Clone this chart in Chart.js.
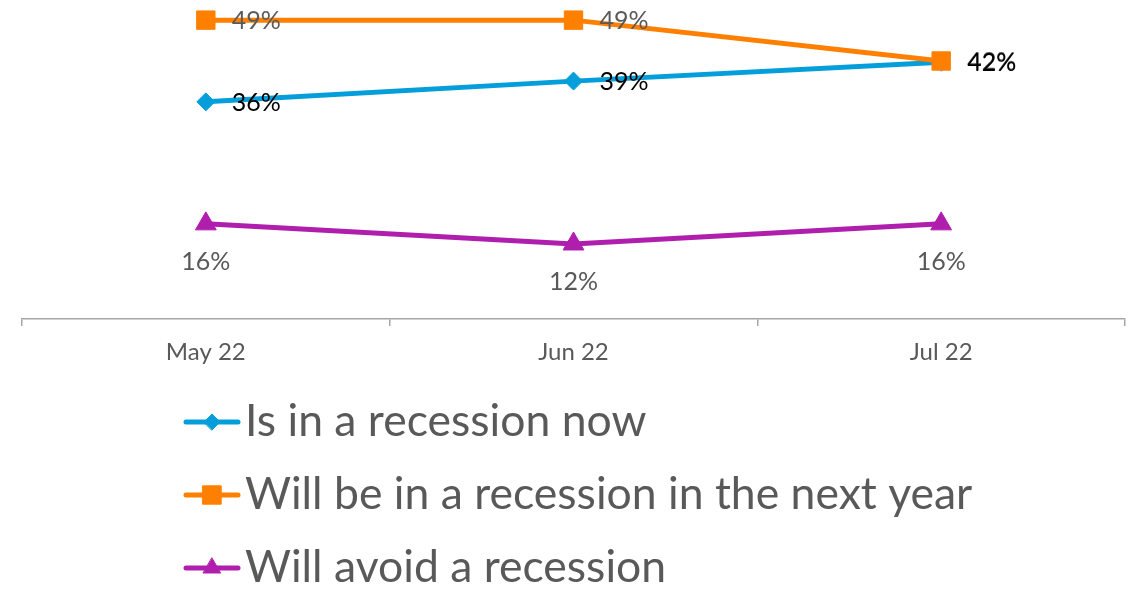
<!DOCTYPE html>
<html>
<head>
<meta charset="utf-8">
<script src="https://cdn.jsdelivr.net/npm/chart.js@4.4.0/dist/chart.umd.min.js"></script>
<style>
  html, body { margin: 0; padding: 0; background: #fff; }
  #wrap { width: 1132px; height: 589px; }
</style>
</head>
<body>
<div id="wrap"><canvas id="chart" width="1132" height="589"></canvas></div>
<script>
// data (labels are rounded, so values are estimates)
const months = ['May 22', 'Jun 22', 'Jul 22'];
const recessionNow = [35.6, 39.0, 42.1];
const recessionNextYear = [49.0, 49.0, 42.3];
const avoidRecession = [15.6, 12.3, 15.6];
const seriesNames = [
  'Is in a recession now',
  'Will be in a recession in the next year',
  'Will avoid a recession'
];

const GREY = '#595959';
const FONT = 'Lato';

// percent labels next to / under each point
const valueLabels = {
  id: 'valueLabels',
  afterDatasetsDraw(chart) {
    const ctx = chart.ctx;
    ctx.save();
    ctx.font = '25px ' + FONT;
    ctx.textBaseline = 'middle';
    for (let i = chart.data.datasets.length - 1; i >= 0; i--) {
      const ds = chart.data.datasets[i];
      const meta = chart.getDatasetMeta(i);
      ctx.fillStyle = ds.labelColor;
      meta.data.forEach((pt, j) => {
        const txt = Math.round(ds.data[j]) + '%';
        if (ds.labelPos === 'below') {
          ctx.textAlign = 'center';
          ctx.fillText(txt, pt.x, pt.y + 38);
        } else {
          ctx.textAlign = 'left';
          ctx.fillText(txt, pt.x + 26, pt.y + 1);
        }
      });
    }
    ctx.restore();
  }
};

// legend stacked under the axis, one series per row
const rowLegend = {
  id: 'rowLegend',
  afterDraw(chart) {
    const ctx = chart.ctx;
    ctx.save();
    chart.data.datasets.forEach((ds, i) => {
      const y = 422 + i * 73;
      ctx.strokeStyle = ds.borderColor;
      ctx.lineWidth = 5;
      ctx.lineCap = 'round';
      ctx.beginPath();
      ctx.moveTo(186, y);
      ctx.lineTo(238, y);
      ctx.stroke();
      ctx.fillStyle = ds.borderColor;
      ctx.lineWidth = 1;
      Chart.helpers.drawPoint(ctx, {
        pointStyle: ds.pointStyle, radius: ds.legendRadius, rotation: 0, borderWidth: 1
      }, 212, y);
      ctx.fillStyle = GREY;
      ctx.font = '44.5px ' + FONT;
      ctx.textAlign = 'left';
      ctx.textBaseline = 'middle';
      ctx.fillText(ds.label, 245, y);
    });
    ctx.restore();
  }
};

const colors = ['#049FDA', '#FF8000', '#B01EAE'];

new Chart(document.getElementById('chart'), {
  type: 'line',
  data: {
    labels: months,
    datasets: [
      {
        label: seriesNames[0], data: recessionNow, order: 1,
        borderColor: colors[0], backgroundColor: colors[0],
        pointStyle: 'rectRot', pointRadius: 9, legendRadius: 8,
        labelColor: '#000000', labelPos: 'right'
      },
      {
        label: seriesNames[1], data: recessionNextYear, order: 0,
        borderColor: colors[1], backgroundColor: colors[1],
        pointStyle: 'rect', pointRadius: 13, legendRadius: 13,
        labelColor: GREY, labelPos: 'right'
      },
      {
        label: seriesNames[2], data: avoidRecession, order: 2,
        borderColor: colors[2], backgroundColor: colors[2],
        pointStyle: 'triangle', pointRadius: 12, legendRadius: 10,
        labelColor: GREY, labelPos: 'below'
      }
    ]
  },
  options: {
    responsive: false,
    animation: false,
    layout: { autoPadding: false, padding: { left: 22, right: 7, top: 0, bottom: 0 } },
    elements: {
      line: { tension: 0, borderWidth: 5, fill: false },
      point: { borderWidth: 1, hoverRadius: 9 }
    },
    plugins: {
      legend: { display: false },
      tooltip: { enabled: false }
    },
    scales: {
      x: {
        offset: true,
        grid: {
          offset: true, drawOnChartArea: false, drawTicks: true,
          tickLength: 7, color: '#a6a6a6', lineWidth: 1.5
        },
        border: { display: true, color: '#a6a6a6', width: 1.5 },
        ticks: { color: GREY, font: { family: FONT, size: 24 }, padding: 12 },
        afterFit(scale) { scale.height = 270; }
      },
      y: { display: false, min: 0, max: 52.3 }
    }
  },
  plugins: [valueLabels, rowLegend]
});
</script>
</body>
</html>
